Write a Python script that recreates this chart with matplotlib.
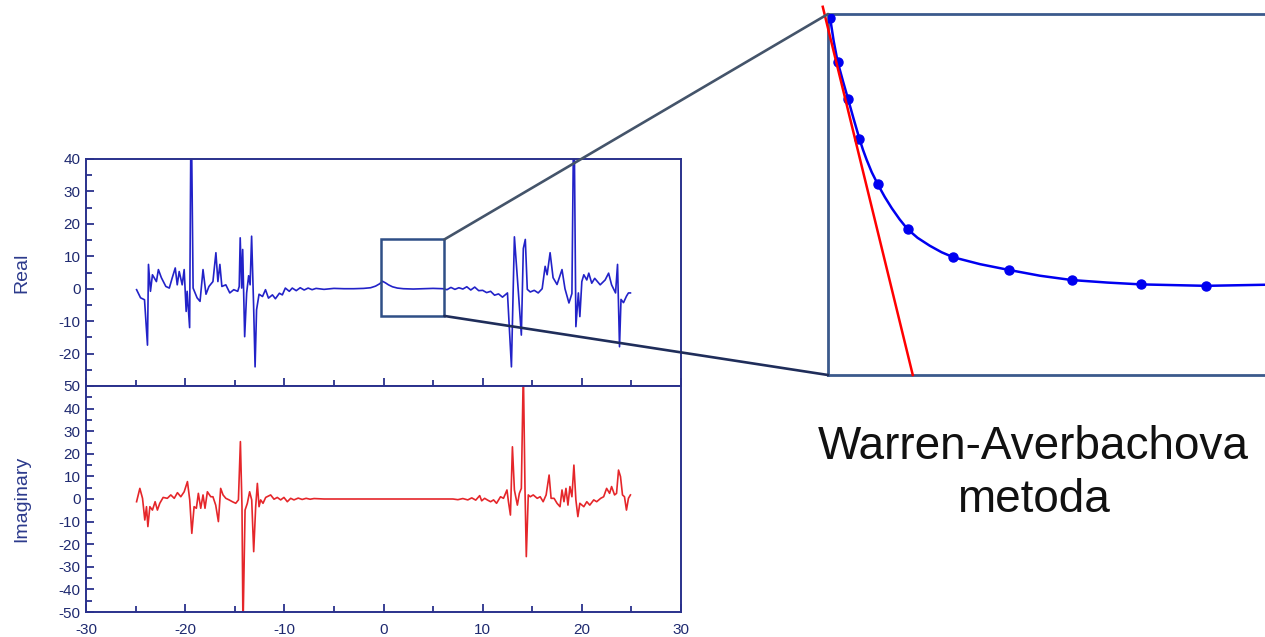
import matplotlib.pyplot as plt
from matplotlib.patches import Rectangle, ConnectionPatch

plt.rcParams['font.family'] = ['Liberation Sans', 'DejaVu Sans']
plt.rcParams['axes.unicode_minus'] = False

# Real part (blue); the two tall spikes run past the top
real_x = [-24.9, -24.5, -24.1, -23.8, -23.7, -23.5, -23.3, -22.9, -22.7, -22.4,
          -21.95, -21.6, -21.3, -21.0, -20.8, -20.6, -20.3, -20.1, -19.9, -19.8,
          -19.55, -19.4, -19.2, -18.8, -18.5, -18.2, -17.9, -17.6, -17.2, -16.9,
          -16.7, -16.5, -16.3, -15.9, -15.5, -15.1, -14.7, -14.55, -14.45, -14.3,
          -14.2, -14.0, -13.8, -13.6, -13.45, -13.3, -13.1, -12.95, -12.8, -12.55,
          -12.2, -11.9, -11.6, -11.2, -10.9, -10.5, -10.2, -9.9, -9.5, -9.2,
          -8.8, -8.4, -8.0, -7.6, -7.2, -6.8, -6.0, -5.0, -4.0, -3.0,
          -2.0, -1.3, -0.8, -0.4, -0.1, 0.2, 0.5, 0.9, 1.4, 2.0,
          3.0, 4.0, 5.0, 6.0, 6.4, 6.8, 7.2, 7.6, 8.0, 8.4,
          8.8, 9.2, 9.6, 10.0, 10.4, 10.8, 11.2, 11.6, 12.0, 12.5,
          12.9, 13.2, 13.6, 13.9, 14.1, 14.3, 14.5, 14.8, 15.2, 15.6,
          16.0, 16.3, 16.5, 16.8, 17.1, 17.5, 18.0, 18.3, 18.7, 19.0,
          19.2, 19.4, 19.65, 19.8, 20.0, 20.2, 20.5, 20.7, 21.0, 21.3,
          21.85, 22.35, 22.7, 23.0, 23.4, 23.6, 23.8, 23.95, 24.2, 24.5,
          24.7, 24.9]
real_y = [-0.3, -2.8, -3.4, -17.4, 7.5, -0.8, 4.3, 2.2, 5.9, 3.4,
          0.7, 0.2, 3.4, 6.4, 1.2, 5.3, 1.2, 5.9, -7.0, -0.8,
          -12.0, 60.0, 0.2, -2.8, -3.9, 5.9, -1.7, 0.7, 2.2, 11.1,
          2.2, 7.5, 0.7, 1.2, -1.3, -0.3, -0.8, 0.7, 15.7, 0.2,
          12.1, -14.8, -1.3, 4.0, 1.2, 16.2, -5.0, -24.1, -6.5, -1.7,
          -2.4, -0.3, -2.9, -1.9, -3.1, -1.4, -1.9, 0.2, -0.8, 0.2,
          -0.6, 0.3, -0.4, 0.2, -0.3, 0.1, -0.2, 0.1, 0.0, 0.0,
          0.1, 0.3, 0.8, 1.5, 2.3, 1.8, 1.2, 0.6, 0.2, 0.0,
          -0.1, 0.0, 0.1, 0.0, -0.3, 0.4, -0.2, 0.3, -0.1, 0.6,
          -0.4, 0.5, -0.6, -0.5, -1.2, -0.8, -2.0, -1.6, -2.6, -1.3,
          -24.1, 16.0, -1.0, -14.3, 12.4, 15.2, -0.2, -1.0, -0.5, -1.3,
          0.0, 6.9, 4.3, 11.1, 3.4, 1.3, 5.9, 0.0, -4.4, -1.5,
          60.0, -11.7, -1.3, -8.6, 2.2, 4.3, 2.7, 4.8, 1.7, 3.2,
          1.2, 2.7, 4.8, 1.2, -1.3, 7.5, -17.9, -3.3, -4.3, -2.3,
          -1.3, -1.3]

# Imaginary part (red)
imag_x = [-24.9, -24.57, -24.3, -24.07, -23.9, -23.76, -23.56, -23.3, -23.03, -22.8,
          -22.56, -22.22, -21.8, -21.45, -21.1, -20.78, -20.44, -20.1, -19.77, -19.54,
          -19.33, -19.1, -18.87, -18.67, -18.43, -18.2, -18.0, -17.76, -17.42, -17.2,
          -16.92, -16.65, -16.42, -16.18, -15.9, -15.57, -15.24, -14.9, -14.63, -14.43,
          -14.27, -14.17, -13.96, -13.73, -13.5, -13.29, -13.09, -12.89, -12.72, -12.55,
          -12.39, -12.15, -11.88, -11.38, -11.04, -10.71, -10.37, -10.04, -9.7, -9.36,
          -9.03, -8.6, -8.2, -7.8, -7.4, -7.0, -6.0, -4.0, -2.0, 0.0,
          2.0, 4.0, 6.0, 7.0, 7.5, 8.0, 8.5, 8.9, 9.3, 9.7,
          9.9, 10.2, 10.5, 10.8, 11.1, 11.4, 11.8, 12.1, 12.45, 12.6,
          12.8, 13.0, 13.2, 13.5, 13.7, 13.9, 14.1, 14.27, 14.4, 14.6,
          14.8, 15.1, 15.5, 15.8, 16.1, 16.4, 16.7, 16.9, 17.2, 17.5,
          17.8, 18.0, 18.2, 18.4, 18.6, 18.8, 19.0, 19.2, 19.4, 19.6,
          19.8, 20.2, 20.5, 20.8, 21.2, 21.5, 21.9, 22.2, 22.5, 22.8,
          23.0, 23.3, 23.5, 23.7, 23.9, 24.1, 24.3, 24.5, 24.7, 24.9]
imag_y = [-1.2, 4.7, 0.3, -9.3, -3.4, -12.2, -3.4, -4.9, -1.2, -4.9,
          -1.9, 0.7, 0.3, 1.8, 0.3, 2.8, 1.0, 3.2, 7.7, -0.4,
          -15.2, -3.4, -4.1, 2.5, -4.1, 1.8, -4.1, 3.2, 1.0, 1.0,
          -2.7, -10.0, 4.7, 1.8, 0.3, -0.4, -1.2, -1.9, -0.4, 25.4,
          -3.4, -58.0, -4.9, -1.9, 3.2, -0.4, -23.3, -3.4, 6.9, -3.4,
          -0.4, -1.9, 0.7, 1.8, -0.1, 0.7, -0.4, 0.7, -1.2, 0.3,
          -0.4, 0.4, -0.2, 0.3, -0.1, 0.2, 0.0, 0.0, 0.0, 0.0,
          0.0, 0.0, 0.0, 0.0, -0.3, 0.2, -0.4, 0.5, -0.5, 1.5,
          -0.8, 0.3, -0.5, -1.2, -0.4, -1.9, 1.0, 0.3, 4.0, -1.2,
          -7.1, 23.1, 4.0, -2.7, 2.5, 4.7, 58.0, 4.0, -25.5, 1.8,
          1.0, 1.8, 0.3, 1.0, -1.2, 1.8, 10.6, 0.3, 0.3, -1.9,
          -3.4, 4.0, -1.2, 4.7, -2.7, 5.5, 1.0, 15.0, -0.4, -7.8,
          -1.9, -3.4, -1.2, -2.7, -0.4, -1.2, 0.3, 1.0, 4.7, 2.5,
          5.5, 1.8, 2.5, 12.8, 9.9, 1.8, 1.0, -4.9, 0.3, 1.8]

# zoomed-in decay (right box)
dots_x = [0.05, 0.22, 0.46, 0.72, 1.14, 1.82, 2.87, 4.14, 5.58, 7.16, 8.65]
dots_y = [0.988, 0.868, 0.764, 0.654, 0.528, 0.404, 0.326, 0.291, 0.263, 0.251, 0.247]
curve_x = [0.05, 0.13, 0.22, 0.34, 0.46, 0.59, 0.72, 0.8, 0.885, 1.0, 1.14,
           1.3, 1.46, 1.64, 1.82, 2.05, 2.33, 2.6, 2.87, 3.48, 4.14,
           4.85, 5.58, 6.4, 7.16, 8.65, 10.0]
curve_y = [0.988, 0.925, 0.868, 0.815, 0.764, 0.708, 0.654, 0.624, 0.596, 0.562, 0.528,
           0.493, 0.462, 0.431, 0.404, 0.380, 0.358, 0.340, 0.326, 0.307, 0.291,
           0.275, 0.263, 0.256, 0.251, 0.247, 0.250]
tangent_x = [-0.12, 1.94]
tangent_y = [1.02, 0.0]

NAVY = '#2a318c'
W, H = 1265, 637

fig = plt.figure(figsize=(W / 100, H / 100), dpi=100)


def frac(x0, y0, x1, y1):
    # pixel box -> figure fraction
    return [x0 / W, 1 - y1 / H, (x1 - x0) / W, (y1 - y0) / H]


ax_re = fig.add_axes(frac(86, 159, 681, 386))
ax_im = fig.add_axes(frac(86, 386, 681, 612))

for ax in (ax_re, ax_im):
    for s in ax.spines.values():
        s.set_color(NAVY)
        s.set_linewidth(1.4)
    ax.set_xlim(-30, 30)
    ax.set_xticks(range(-30, 31, 10))
    ax.set_xticks(range(-25, 26, 10), minor=True)
    ax.tick_params(which='both', direction='in', colors=NAVY, labelcolor='#1f2a70',
                   labelsize=11, top=False, right=False, width=1.3)
    ax.tick_params(which='major', length=6, pad=4)
    ax.tick_params(which='minor', length=4)
    ax.tick_params(axis='x', pad=8)

ax_re.plot(real_x, real_y, color='#2222c8', lw=1.2)
ax_re.set_ylim(-30, 40)
ax_re.set_yticks(range(-20, 41, 10))
ax_re.set_yticks(range(-25, 40, 10), minor=True)
ax_re.tick_params(axis='x', labelbottom=False)
ax_re.set_ylabel('Real', color='#2c3a8c', fontsize=14)
ax_re.yaxis.set_label_coords(-0.094, 0.5)

ax_im.plot(imag_x, imag_y, color='#e5262a', lw=1.2)
ax_im.set_ylim(-50, 50)
ax_im.set_yticks(range(-50, 51, 10))
ax_im.set_yticks(range(-45, 50, 10), minor=True)
ax_im.set_ylabel('Imaginary', color='#2c3a8c', fontsize=14)
ax_im.yaxis.set_label_coords(-0.094, 0.5)

# marked region on the real part
ax_re.add_patch(Rectangle((-0.3, -8.4), 6.44, 23.6, fill=False, ec='#2f4f86',
                          lw=1.8, clip_on=False, zorder=5))

# enlarged view
ax_z = fig.add_axes(frac(828, 14, 1265, 375))
ax_z.set_xlim(0, 10)
ax_z.set_ylim(0, 1)
ax_z.set_xticks([])
ax_z.set_yticks([])
for s in ax_z.spines.values():
    s.set_color('#3b5a8c')
    s.set_linewidth(2)
ax_z.spines['right'].set_visible(False)
ax_z.plot(curve_x, curve_y, color='#0000f0', lw=1.8, zorder=3)
ax_z.plot(dots_x, dots_y, 'o', color='#0000f0', ms=6.5, zorder=4)
ax_z.plot(tangent_x, tangent_y, color='#ff0000', lw=1.8, clip_on=False, zorder=5)

fig.add_artist(ConnectionPatch(xyA=(6.14, 15.2), coordsA=ax_re.transData,
                               xyB=(0, 1), coordsB=ax_z.transAxes,
                               color='#44546a', lw=1.9, zorder=6))
fig.add_artist(ConnectionPatch(xyA=(6.14, -8.4), coordsA=ax_re.transData,
                               xyB=(0, 0), coordsB=ax_z.transAxes,
                               color='#1f2d5a', lw=1.9, zorder=6))

fig.text(1033 / W, 1 - 447 / H, 'Warren-Averbachova', ha='center', va='center',
         fontsize=33, color='#111111')
fig.text(1033 / W, 1 - 500 / H, 'metoda', ha='center', va='center',
         fontsize=33, color='#111111')

fig.savefig('out.png', dpi=100)
